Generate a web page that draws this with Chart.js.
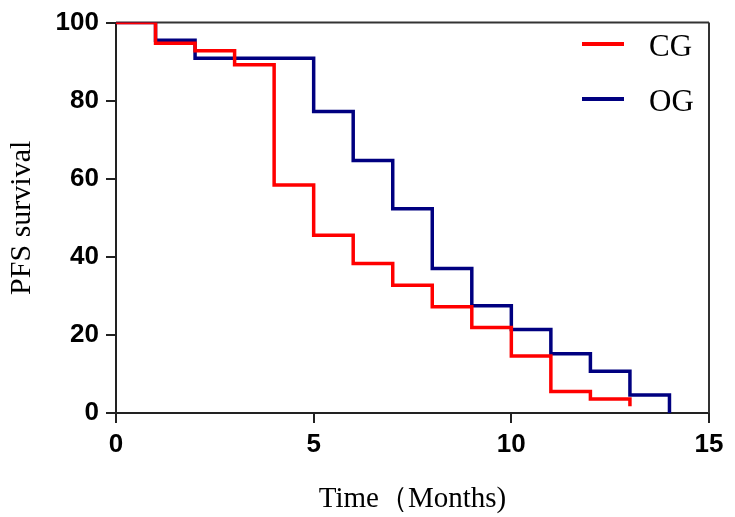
<!DOCTYPE html>
<html>
<head>
<meta charset="utf-8">
<script src="https://cdn.jsdelivr.net/npm/chart.js@4/dist/chart.umd.min.js"></script>
<style>
  html, body { margin: 0; padding: 0; background: #fff; }
  #wrap { width: 735px; height: 517px; position: relative; }
</style>
</head>
<body>
<div id="wrap"><canvas id="pfsChart"></canvas></div>
<script>
"use strict";
// PFS Kaplan-Meier curves
const months = [0, 1, 2, 3, 4, 5, 6, 7, 8, 9, 10, 11, 12, 13, 14];
const cgSurvival = [100, 94.7, 92.8, 89.2, 58.4, 45.5, 38.3, 32.7, 27.2, 21.9, 14.6, 5.5, 3.6, 1.7, null];
const ogSurvival = [100, 95.5, 90.9, 90.9, 90.9, 77.2, 64.7, 52.3, 37.0, 27.5, 21.4, 15.2, 10.7, 4.6, 0];
const seriesNames = ["CG", "OG"];
const xTicks = [0, 5, 10, 15];
const yTicks = [0, 20, 40, 60, 80, 100];

const AXIS_COLOR = "#222";
const TICK_FONT = { family: "'Liberation Sans', Arial, sans-serif", size: 26, weight: "bold" };
const TITLE_FONT = { family: "'Liberation Serif', 'Times New Roman', serif", size: 30 };

function toPoints(values) {
    const pts = [];
    values.forEach((v, i) => {
        if (v !== null && v !== undefined)
            pts.push({ x: months[i], y: v });
    });
    return pts;
}

// top + right frame lines
const framePlugin = {
    id: "frame",
    beforeDatasetsDraw(chart) {
        const { ctx, chartArea } = chart;
        ctx.save();
        ctx.strokeStyle = "#333";
        ctx.lineWidth = 2;
        ctx.beginPath();
        ctx.moveTo(chartArea.left, chartArea.top);
        ctx.lineTo(chartArea.right, chartArea.top);
        ctx.moveTo(chartArea.right, chartArea.top);
        ctx.lineTo(chartArea.right, chartArea.bottom);
        ctx.stroke();
        ctx.restore();
    },
};

// legend drawn inside the plot, top right
const legendPlugin = {
    id: "insideLegend",
    afterDraw(chart) {
        const { ctx } = chart;
        ctx.save();
        chart.data.datasets.forEach((ds, i) => {
            const y = 44 + i * 55;
            ctx.strokeStyle = ds.borderColor;
            ctx.lineWidth = 4;
            ctx.beginPath();
            ctx.moveTo(582, y);
            ctx.lineTo(624, y);
            ctx.stroke();
            ctx.fillStyle = "#000";
            ctx.font = "31px 'Liberation Serif', 'Times New Roman', serif";
            ctx.textBaseline = "alphabetic";
            ctx.textAlign = "left";
            ctx.fillText(ds.label, 649, y + 12);
        });
        ctx.restore();
    },
};

const ctx = document.getElementById("pfsChart").getContext("2d");
new Chart(ctx, {
    type: "line",
    data: {
        datasets: [
            {
                label: seriesNames[0],
                data: toPoints(cgSurvival),
                borderColor: "#ff0000",
                borderWidth: 3.5,
                stepped: true,
                pointRadius: 0,
                fill: false,
            },
            {
                label: seriesNames[1],
                data: toPoints(ogSurvival),
                borderColor: "#000080",
                borderWidth: 3.5,
                stepped: true,
                pointRadius: 0,
                fill: false,
            },
        ],
    },
    options: {
        responsive: true,
        maintainAspectRatio: false,
        animation: false,
        layout: { padding: { top: 19, right: 26, left: 0, bottom: 0 } },
        plugins: {
            legend: { display: false },
            tooltip: { enabled: false },
        },
        scales: {
            x: {
                type: "linear",
                min: 0,
                max: 15,
                afterFit: (s) => { s.height = 104; },
                afterBuildTicks: (s) => { s.ticks = xTicks.map(v => ({ value: v })); },
                grid: { drawOnChartArea: false, drawTicks: true, tickLength: 10, lineWidth: 2, color: AXIS_COLOR },
                border: { color: AXIS_COLOR, width: 2 },
                ticks: { color: "#000", font: TICK_FONT, padding: 6, maxRotation: 0 },
                title: { display: true, text: "Time（Months)", color: "#000", font: { ...TITLE_FONT, size: 29 }, padding: { top: 3, bottom: 0 } },
            },
            y: {
                min: 0,
                max: 100,
                afterFit: (s) => { s.width = 116; },
                afterBuildTicks: (s) => { s.ticks = yTicks.map(v => ({ value: v })); },
                grid: { drawOnChartArea: false, drawTicks: true, tickLength: 10, lineWidth: 2, color: AXIS_COLOR },
                border: { color: AXIS_COLOR, width: 2 },
                ticks: { color: "#000", font: TICK_FONT, padding: 7 },
                title: { display: true, text: "PFS survival", color: "#000", font: TITLE_FONT, padding: { top: 4, bottom: 0 } },
            },
        },
    },
    plugins: [framePlugin, legendPlugin],
});
</script>
</body>
</html>
